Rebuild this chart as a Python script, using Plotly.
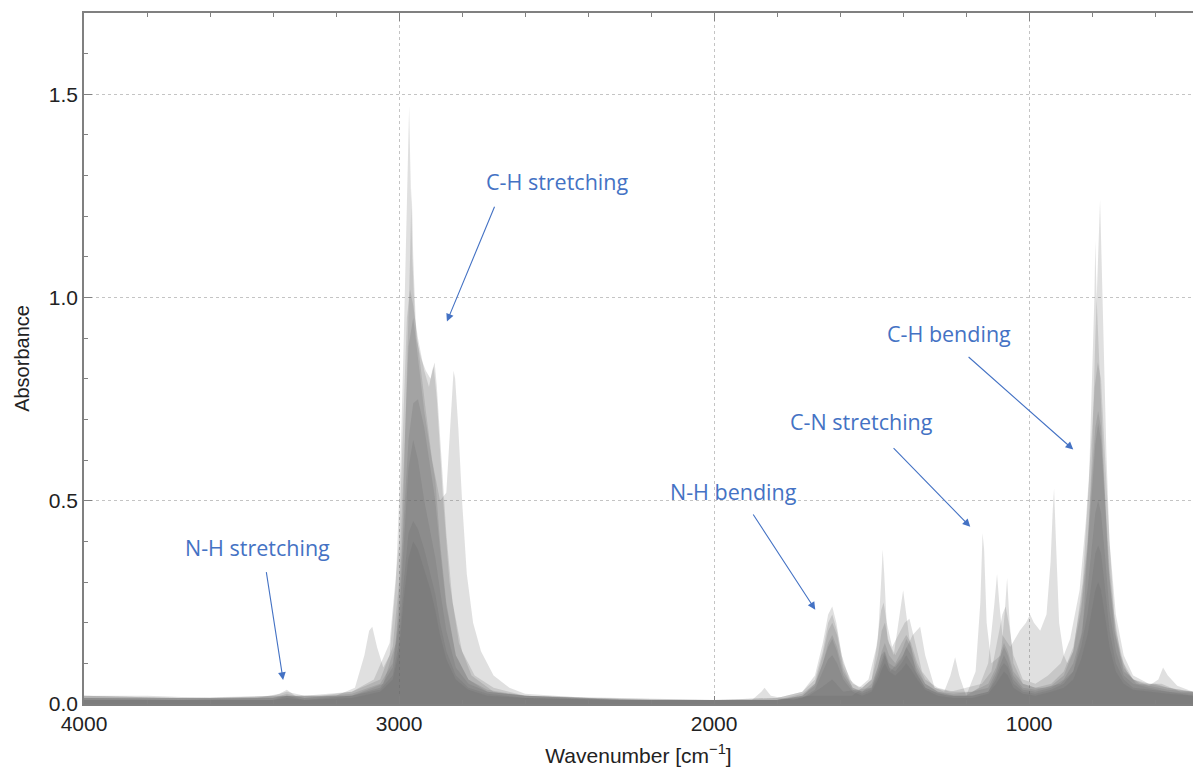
import plotly.graph_objects as go

# ---------------- data ----------------
S1_WN = [4000, 3800, 3600, 3400, 3200, 3140, 3110, 3095, 3085, 3070, 3050, 3030, 3010, 2995, 2985,
         2975, 2970, 2968, 2965, 2958, 2950, 2935, 2915, 2895, 2870, 2850, 2840, 2832, 2827, 2822,
         2812, 2800, 2785, 2765, 2740, 2700, 2650, 2600, 2400, 2200, 2000, 1880, 1850, 1840, 1820,
         1750, 1700, 1560, 1500, 1480, 1470, 1465, 1460, 1450, 1430, 1415, 1405, 1400, 1395, 1380,
         1360, 1330, 1300, 1260, 1200, 1170, 1155, 1148, 1143, 1135, 1120, 1090, 1078, 1070, 1062,
         1050, 1020, 980, 950, 900, 860, 830, 810, 800, 790, 782, 777, 775, 772, 765,
         755, 745, 730, 710, 690, 660, 620, 590, 575, 560, 530, 480]
S1_ABS = [0.02, 0.02, 0.015, 0.02, 0.02, 0.04, 0.12, 0.18, 0.19, 0.14, 0.09, 0.12, 0.30, 0.60, 0.90,
          1.20, 1.40, 1.47, 1.35, 1.10, 0.95, 0.85, 0.72, 0.60, 0.50, 0.52, 0.65, 0.78, 0.82, 0.80,
          0.68, 0.50, 0.32, 0.20, 0.13, 0.07, 0.04, 0.025, 0.015, 0.01, 0.01, 0.01, 0.03, 0.04, 0.02,
          0.01, 0.02, 0.02, 0.06, 0.16, 0.30, 0.38, 0.32, 0.16, 0.12, 0.20, 0.26, 0.28, 0.25, 0.16,
          0.08, 0.04, 0.03, 0.02, 0.02, 0.08, 0.25, 0.42, 0.38, 0.20, 0.10, 0.12, 0.22, 0.31, 0.20,
          0.10, 0.05, 0.04, 0.04, 0.05, 0.08, 0.18, 0.45, 0.62, 0.90, 1.10, 1.20, 1.24, 1.15, 0.90,
          0.62, 0.40, 0.22, 0.12, 0.08, 0.05, 0.045, 0.06, 0.09, 0.07, 0.045, 0.03]

S2_WN = [4000, 3600, 3300, 3150, 3050, 3010, 2990, 2975, 2965, 2960, 2955, 2945, 2930, 2915, 2900,
         2890, 2880, 2860, 2840, 2810, 2770, 2700, 2600, 2200, 1800, 1700, 1660, 1625, 1590, 1500,
         1470, 1460, 1440, 1400, 1370, 1346, 1330, 1300, 1270, 1250, 1235, 1222, 1200, 1160, 1130,
         1110, 1102, 1095, 1085, 1060, 1030, 1010, 997, 985, 965, 945, 932, 925, 921, 915,
         905, 890, 879, 860, 830, 810, 800, 793, 790, 786, 778, 765, 750, 730, 700,
         650, 600, 560, 480]
S2_ABS = [0.015, 0.015, 0.02, 0.02, 0.05, 0.15, 0.40, 0.80, 1.10, 1.27, 1.10, 0.90, 0.85, 0.82, 0.80,
          0.83, 0.75, 0.50, 0.30, 0.15, 0.07, 0.03, 0.02, 0.01, 0.01, 0.02, 0.04, 0.06, 0.03, 0.04,
          0.12, 0.13, 0.08, 0.12, 0.17, 0.19, 0.12, 0.04, 0.03, 0.07, 0.115, 0.07, 0.02, 0.04, 0.10,
          0.25, 0.32, 0.25, 0.17, 0.14, 0.18, 0.20, 0.22, 0.20, 0.18, 0.22, 0.35, 0.48, 0.53, 0.40,
          0.20, 0.12, 0.10, 0.13, 0.30, 0.55, 0.80, 1.00, 1.14, 1.00, 0.85, 0.60, 0.35, 0.18, 0.08,
          0.05, 0.05, 0.04, 0.03]

S3_WN = [4000, 3700, 3450, 3380, 3356, 3330, 3250, 3150, 3080, 3030, 3000, 2985, 2975, 2965, 2955,
         2940, 2920, 2905, 2895, 2887, 2880, 2865, 2850, 2830, 2800, 2760, 2700, 2600, 2400, 2000,
         1800, 1720, 1680, 1655, 1638, 1625, 1612, 1595, 1570, 1540, 1510, 1485, 1470, 1462, 1452,
         1435, 1415, 1395, 1380, 1365, 1340, 1300, 1250, 1200, 1150, 1120, 1100, 1085, 1075, 1065,
         1050, 1020, 980, 940, 900, 870, 840, 820, 805, 792, 782, 772, 760, 745, 725,
         700, 670, 620, 580, 520, 480]
S3_ABS = [0.02, 0.015, 0.015, 0.025, 0.035, 0.02, 0.02, 0.03, 0.06, 0.15, 0.40, 0.75, 0.95, 1.02, 0.98,
          0.90, 0.82, 0.78, 0.82, 0.84, 0.78, 0.60, 0.42, 0.25, 0.13, 0.07, 0.04, 0.02, 0.015, 0.01,
          0.015, 0.03, 0.07, 0.15, 0.22, 0.24, 0.20, 0.12, 0.06, 0.04, 0.06, 0.14, 0.23, 0.25, 0.20,
          0.14, 0.17, 0.20, 0.21, 0.16, 0.08, 0.04, 0.03, 0.04, 0.05, 0.08, 0.16, 0.22, 0.24, 0.20,
          0.12, 0.06, 0.05, 0.07, 0.10, 0.16, 0.28, 0.45, 0.62, 0.78, 0.84, 0.80, 0.62, 0.40, 0.22,
          0.12, 0.07, 0.05, 0.05, 0.03, 0.03]

# shared wavenumber grid for the darker (more typical) spectra
DARK_WN = [4000, 3700, 3400, 3356, 3300, 3150, 3060, 3020, 3000, 2985, 2970, 2955, 2940, 2920, 2900,
           2885, 2870, 2850, 2820, 2780, 2720, 2600, 2300, 2000, 1800, 1720, 1680, 1655, 1638, 1625,
           1610, 1590, 1560, 1530, 1500, 1480, 1468, 1458, 1445, 1425, 1405, 1390, 1375, 1355, 1330,
           1290, 1240, 1180, 1130, 1105, 1090, 1080, 1068, 1050, 1020, 980, 930, 890, 860, 835,
           815, 800, 790, 781, 772, 760, 745, 725, 700, 670, 620, 560, 480]
S4_ABS = [0.02, 0.015, 0.02, 0.03, 0.02, 0.03, 0.06, 0.14, 0.30, 0.60, 0.88, 0.95, 0.85, 0.72, 0.62,
          0.55, 0.40, 0.25, 0.12, 0.06, 0.035, 0.02, 0.015, 0.01, 0.015, 0.03, 0.06, 0.13, 0.20, 0.22,
          0.18, 0.10, 0.05, 0.04, 0.06, 0.12, 0.18, 0.20, 0.15, 0.12, 0.15, 0.17, 0.15, 0.10, 0.06,
          0.04, 0.03, 0.03, 0.05, 0.09, 0.13, 0.15, 0.13, 0.08, 0.05, 0.04, 0.05, 0.08, 0.14, 0.25,
          0.40, 0.56, 0.68, 0.72, 0.68, 0.52, 0.33, 0.18, 0.10, 0.06, 0.05, 0.04, 0.03]
S5_ABS = [0.015, 0.015, 0.015, 0.025, 0.015, 0.025, 0.05, 0.10, 0.22, 0.45, 0.65, 0.74, 0.75, 0.68, 0.58,
          0.50, 0.38, 0.24, 0.12, 0.06, 0.03, 0.02, 0.01, 0.01, 0.01, 0.025, 0.05, 0.12, 0.18, 0.20,
          0.17, 0.09, 0.04, 0.03, 0.05, 0.09, 0.13, 0.15, 0.12, 0.10, 0.13, 0.16, 0.14, 0.09, 0.05,
          0.03, 0.025, 0.03, 0.04, 0.08, 0.12, 0.14, 0.12, 0.07, 0.04, 0.035, 0.045, 0.07, 0.13, 0.23,
          0.38, 0.53, 0.64, 0.69, 0.65, 0.50, 0.31, 0.17, 0.09, 0.06, 0.045, 0.035, 0.03]
S6_ABS = [0.015, 0.01, 0.015, 0.02, 0.015, 0.02, 0.04, 0.09, 0.20, 0.40, 0.58, 0.65, 0.60, 0.50, 0.42,
          0.36, 0.28, 0.18, 0.09, 0.05, 0.03, 0.02, 0.01, 0.01, 0.01, 0.02, 0.05, 0.10, 0.15, 0.17,
          0.14, 0.08, 0.04, 0.03, 0.04, 0.08, 0.11, 0.13, 0.10, 0.09, 0.11, 0.14, 0.12, 0.08, 0.05,
          0.03, 0.02, 0.02, 0.03, 0.07, 0.10, 0.12, 0.10, 0.06, 0.035, 0.03, 0.04, 0.06, 0.10, 0.17,
          0.28, 0.40, 0.47, 0.50, 0.47, 0.37, 0.23, 0.13, 0.07, 0.05, 0.04, 0.03, 0.025]
S7_ABS = [0.01, 0.01, 0.01, 0.02, 0.01, 0.02, 0.035, 0.07, 0.15, 0.30, 0.42, 0.45, 0.43, 0.38, 0.32,
          0.27, 0.20, 0.13, 0.07, 0.04, 0.025, 0.015, 0.01, 0.01, 0.01, 0.02, 0.045, 0.10, 0.14, 0.16,
          0.13, 0.07, 0.035, 0.025, 0.035, 0.07, 0.10, 0.12, 0.09, 0.08, 0.10, 0.12, 0.10, 0.07, 0.04,
          0.025, 0.02, 0.02, 0.03, 0.06, 0.09, 0.10, 0.09, 0.05, 0.03, 0.025, 0.035, 0.05, 0.08, 0.14,
          0.22, 0.31, 0.37, 0.39, 0.37, 0.29, 0.18, 0.10, 0.06, 0.04, 0.035, 0.03, 0.02]
S8_ABS = [0.01, 0.01, 0.01, 0.015, 0.01, 0.015, 0.03, 0.06, 0.13, 0.26, 0.36, 0.40, 0.38, 0.33, 0.28,
          0.23, 0.17, 0.11, 0.06, 0.035, 0.02, 0.015, 0.01, 0.01, 0.01, 0.015, 0.035, 0.08, 0.11, 0.12,
          0.10, 0.06, 0.03, 0.02, 0.03, 0.06, 0.085, 0.10, 0.08, 0.07, 0.085, 0.10, 0.085, 0.06, 0.035,
          0.02, 0.015, 0.015, 0.025, 0.05, 0.07, 0.08, 0.07, 0.04, 0.025, 0.02, 0.03, 0.04, 0.06, 0.11,
          0.17, 0.24, 0.28, 0.30, 0.28, 0.22, 0.14, 0.08, 0.05, 0.035, 0.03, 0.025, 0.02]

SPECTRA = [
    (S1_WN, S1_ABS), (S2_WN, S2_ABS), (S3_WN, S3_ABS),
    (DARK_WN, S4_ABS), (DARK_WN, S5_ABS), (DARK_WN, S6_ABS),
    (DARK_WN, S7_ABS), (DARK_WN, S8_ABS),
]

X_TICKS = [4000, 3000, 2000, 1000]
X_TICK_TEXT = ["4000", "3000", "2000", "1000"]
Y_TICKS = [0.0, 0.5, 1.0, 1.5]
Y_TICK_TEXT = ["0.0", "0.5", "1.0", "1.5"]

# annotations: label, text position (wn, abs), arrow tail (wn, abs), arrow head (wn, abs)
LABELS = ["N-H stretching", "C-H stretching", "N-H bending", "C-N stretching", "C-H bending"]
LABEL_POS = [(3448, 0.384), (2498, 1.286), (1940, 0.522), (1533, 0.695), (1254, 0.911)]
ARROW_TAIL = [(3422, 0.328), (2695, 1.227), (1879, 0.470), (1435, 0.633), (1197, 0.857)]
ARROW_HEAD = [(3368, 0.059), (2848, 0.941), (1679, 0.232), (1187, 0.436), (860, 0.626)]

# ---------------- figure ----------------
FILL = "rgba(100,100,100,0.2)"
BLUE = "#4472C4"
AXIS = "#808080"

fig = go.Figure()
for wn, ab in SPECTRA:
    fig.add_trace(go.Scatter(x=wn, y=ab, mode="lines", line=dict(width=0, color=FILL),
                             fill="tozeroy", fillcolor=FILL, hoverinfo="skip", showlegend=False))

annotations = []
for lab, (tx, ty) in zip(LABELS, LABEL_POS):
    annotations.append(dict(x=tx, y=ty, xref="x", yref="y", text=lab, showarrow=False,
                            font=dict(family="Open Sans", size=21.5, color=BLUE)))
for (hx, hy), (tx, ty) in zip(ARROW_HEAD, ARROW_TAIL):
    annotations.append(dict(x=hx, y=hy, xref="x", yref="y", ax=tx, ay=ty, axref="x", ayref="y",
                            text="", showarrow=True, arrowhead=2, arrowsize=1.4, arrowwidth=1.1,
                            arrowcolor=BLUE, standoff=0, startstandoff=0))

fig.update_layout(
    width=1193, height=778,
    margin=dict(l=84, r=0, t=13, b=74),
    paper_bgcolor="white", plot_bgcolor="white",
    font=dict(family="Liberation Sans, Arial", color="#222222"),
    annotations=annotations,
    showlegend=False,
)
fig.update_xaxes(
    range=[4000, 480], tickvals=X_TICKS, ticktext=X_TICK_TEXT,
    tickfont=dict(size=21, color="#222222"),
    title=dict(text="Wavenumber [cm<sup>\u22121</sup>]", font=dict(size=21, color="#222222"), standoff=14),
    showline=True, linecolor=AXIS, linewidth=1.5, mirror="ticks",
    ticks="inside", ticklen=8, tickcolor=AXIS, tickwidth=1.2,
    minor=dict(dtick=200, tick0=0, ticks="inside", ticklen=4, tickcolor=AXIS, showgrid=False),
    showgrid=True, gridcolor="#c4c4c4", griddash="dot", gridwidth=1,
    zeroline=False,
)
fig.update_yaxes(
    range=[0, 1.70], tickvals=Y_TICKS, ticktext=Y_TICK_TEXT,
    tickfont=dict(size=21, color="#222222"),
    title=dict(text="Absorbance", font=dict(size=20, color="#222222"), standoff=14),
    showline=True, linecolor=AXIS, linewidth=1.5,
    ticks="inside", ticklen=8, tickcolor=AXIS, tickwidth=1.2,
    minor=dict(dtick=0.1, tick0=0, ticks="inside", ticklen=4, tickcolor=AXIS, showgrid=False),
    showgrid=True, gridcolor="#c4c4c4", griddash="dot", gridwidth=1,
    zeroline=False,
)

fig.write_html("out.html")
